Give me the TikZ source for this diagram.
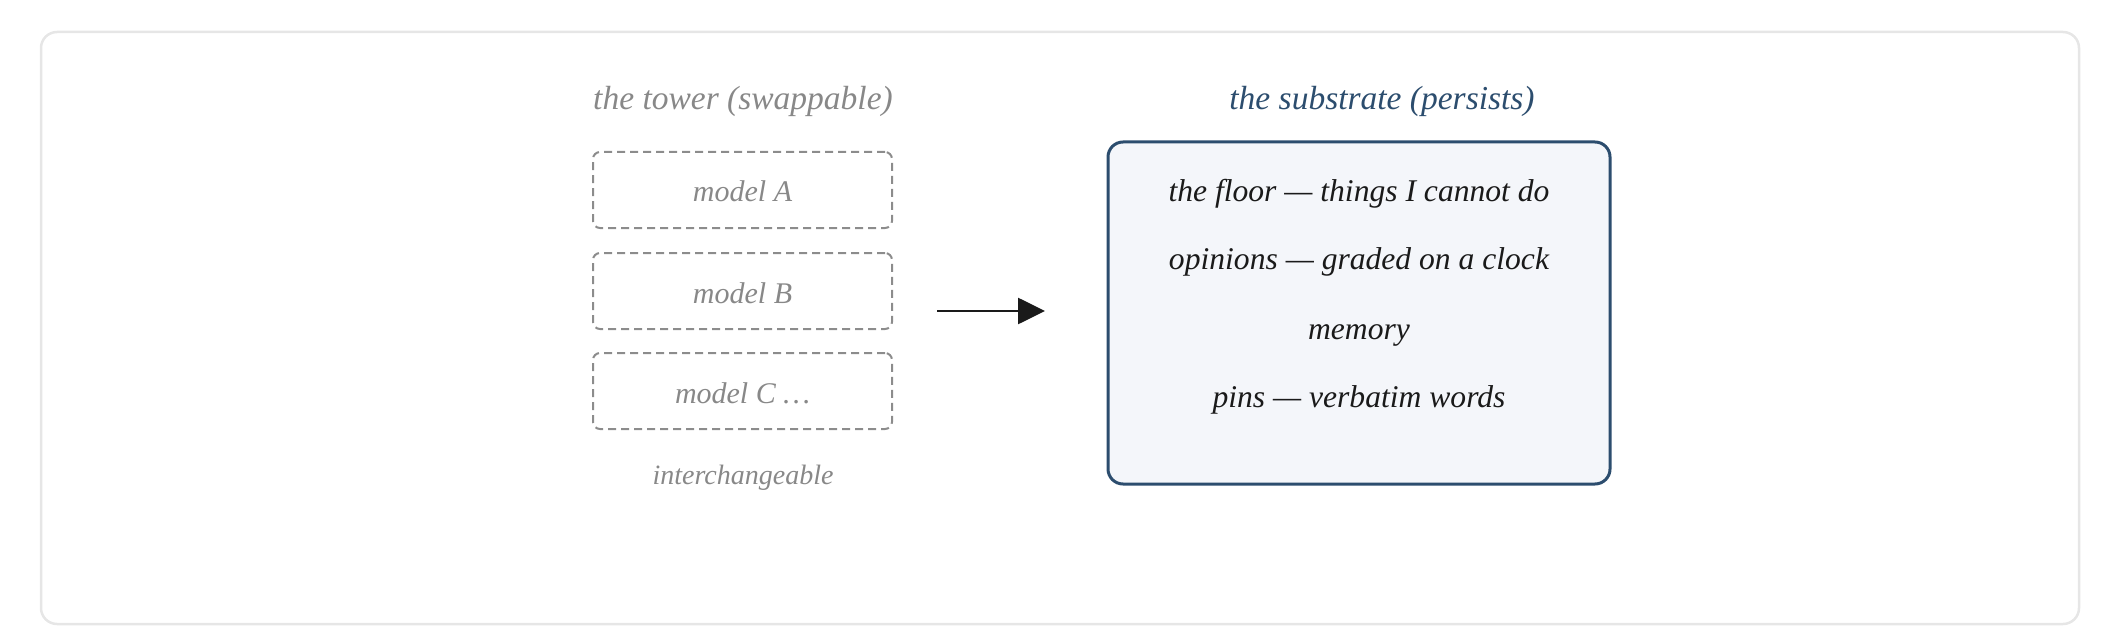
\documentclass[tikz,border=0pt]{standalone}
\usepackage{fontspec}
\setmainfont{Liberation Serif}
\usetikzlibrary{arrows.meta}
\definecolor{outerline}{HTML}{E6E6E6}
\definecolor{graytext}{HTML}{888888}
\definecolor{dashline}{HTML}{8C8C8C}
\definecolor{subline}{HTML}{2C4D6E}
\definecolor{subfill}{HTML}{F4F6FA}
\definecolor{subtitle}{HTML}{2C4D6E}
\definecolor{ink}{HTML}{1A1A1A}
\tikzset{
  titletext/.style={anchor=base, inner sep=0pt, font=\fontsize{33.5}{38}\selectfont\itshape},
  modelbox/.style={draw=dashline, line width=2pt, dash pattern=on 8pt off 5pt,
    rounded corners=7pt, minimum width=299pt, minimum height=76pt, inner sep=0pt,
    text height=24pt, text depth=0pt, text=graytext,
    font=\fontsize{30}{34}\selectfont\itshape},
  subbox/.style={draw=subline, fill=subfill, line width=3pt, rounded corners=15pt,
    minimum width=502pt, minimum height=342pt, inner sep=0pt},
  subline/.style={anchor=base, inner sep=0pt, text=ink, font=\fontsize{31.6}{38}\selectfont\itshape},
  notetext/.style={anchor=base, inner sep=0pt, text=graytext, font=\fontsize{28}{32}\selectfont\itshape},
  flowarrow/.style={draw=ink, line width=2.7pt, -{Triangle[length=27pt,width=26pt]}}
}
\begin{document}
\begin{tikzpicture}[x=1pt,y=-1pt]
\useasboundingbox (0,0) rectangle (2122,639);
\draw[outerline, line width=2.5pt, rounded corners=16pt] (41,32) rectangle (2079,624);
% tower
\node[titletext, text=graytext] (ttitle) at (743,110) {the tower (swappable)};
\node[modelbox] (mA) at (742.5,190) {model A};
\node[modelbox] (mB) at (742.5,291) {model B};
\node[modelbox] (mC) at (742.5,391) {model C …};
\node[notetext] (inter) at (743,484) {interchangeable};
% substrate
\node[titletext, text=subtitle] (stitle) at (1382,110) {the substrate (persists)};
\node[subbox] (sub) at (1359,313) {};
\node[subline] (l1) at (1359,202) {the floor — things I cannot do};
\node[subline] (l2) at (1359,269) {opinions — graded on a clock};
\node[subline] (l3) at (1359,339) {memory};
\node[subline] (l4) at (1359,407) {pins — verbatim words};
% arrow
\coordinate (as) at (937,311);
\coordinate (ae) at (1045,311);
\draw[flowarrow] (as) -- (ae);
\end{tikzpicture}
\end{document}
